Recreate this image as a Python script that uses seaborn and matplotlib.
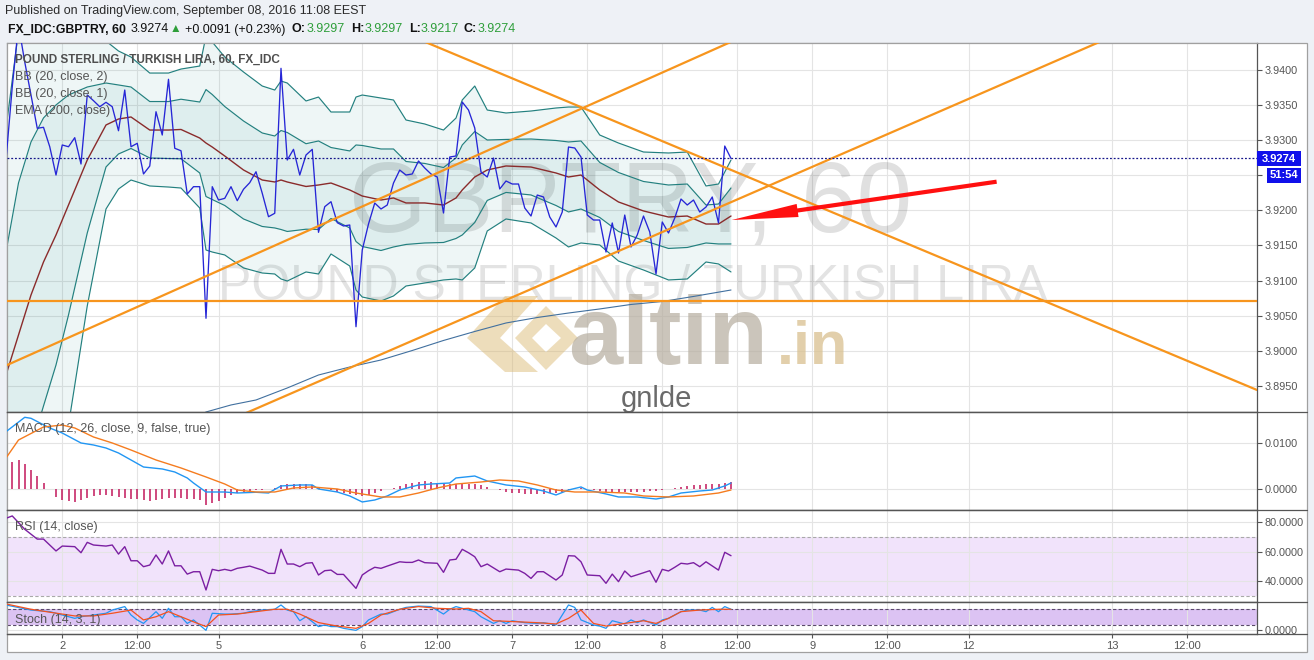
import matplotlib
matplotlib.use("Agg")
import matplotlib.pyplot as plt
import seaborn as sns
import pandas as pd
from matplotlib.patches import Rectangle, Polygon, FancyArrowPatch, PathPatch, ArrowStyle
from matplotlib.path import Path
from matplotlib.lines import Line2D

# ---------------- data (hourly bars, index 0 = first visible bar) ----------------
close = [3.92718, 3.93758, 3.94641, 3.94114, 3.93644, 3.93170, 3.93184, 3.92907, 3.92504, 3.92932,
         3.92907, 3.93036, 3.92661, 3.93644, 3.93563, 3.93477, 3.93540, 3.93477, 3.93135, 3.93715,
         3.92907, 3.92956, 3.92519, 3.92632, 3.93406, 3.93074, 3.93868, 3.92885, 3.92850, 3.92234,
         3.92338, 3.92338, 3.90463, 3.92338, 3.92148, 3.92172, 3.92338, 3.92138, 3.92301, 3.92395,
         3.92551, 3.92244, 3.91910, 3.91959, 3.94024, 3.92718, 3.92870, 3.92504, 3.92789, 3.92870,
         3.91688, 3.92053, 3.92124, 3.91825, 3.91778, 3.91792, 3.90343, 3.91436, 3.91806, 3.92105,
         3.92020, 3.92077, 3.92390, 3.92575, 3.92504, 3.92519, 3.92704, 3.92604, 3.92519, 3.92476,
         3.91963, 3.92761, 3.92775, 3.93544, 3.93430, 3.93174, 3.92547, 3.92476, 3.92746, 3.92305,
         3.92419, 3.92376, 3.92376, 3.92034, 3.91920, 3.92219, 3.92191, 3.91906, 3.91764, 3.91977,
         3.92903, 3.92889, 3.92761, 3.91934, 3.91863, 3.91863, 3.91407, 3.91821, 3.91393, 3.91934,
         3.91479, 3.91650, 3.91920, 3.91692, 3.91094, 3.91835, 3.91678, 3.91892, 3.92162, 3.92077,
         3.92148, 3.91977, 3.92048, 3.92191, 3.91821, 3.92917, 3.92740]

band_bars = [0, 2, 4, 6, 8, 10, 13, 16, 18, 20, 23, 26, 28, 31, 32, 33, 35, 38, 41, 43,
             44, 45, 48, 50, 52, 55, 56, 57, 60, 62, 64, 67, 70, 72, 73, 75, 77, 80, 84, 88,
             90, 92, 95, 98, 102, 106, 109, 112, 114, 116]
bb_basis = [3.89655, 3.90225, 3.90795, 3.91265, 3.91650, 3.92077, 3.92718, 3.93217, 3.93302, 3.93331,
            3.93145, 3.93145, 3.93153, 3.93031, 3.92960, 3.92903, 3.92775, 3.92576, 3.92433, 3.92405,
            3.92433, 3.92405, 3.92341, 3.92362, 3.92390, 3.92291, 3.92248, 3.92205, 3.92148, 3.92177,
            3.92106, 3.92106, 3.92077, 3.92177, 3.92291, 3.92476, 3.92576, 3.92633, 3.92618, 3.92533,
            3.92476, 3.92504, 3.92291, 3.92120, 3.91992, 3.91906, 3.91920, 3.91806, 3.91806, 3.91920]
bb_upper2 = [3.93160, 3.94556, 3.95154, 3.95368, 3.95353, 3.95211, 3.94798, 3.94413, 3.94271, 3.94185,
             3.93957, 3.93957, 3.94014, 3.94057, 3.94484, 3.94399, 3.94185, 3.93972, 3.93772, 3.93715,
             3.93843, 3.93815, 3.93559, 3.93615, 3.93402, 3.93402, 3.93615, 3.93644, 3.93601, 3.93573,
             3.93288, 3.93231, 3.93145, 3.93316, 3.93573, 3.93772, 3.93430, 3.93388, 3.93416, 3.93459,
             3.93473, 3.93473, 3.93074, 3.92960, 3.92832, 3.92818, 3.92832, 3.92348, 3.92376, 3.92718]
bb_lower2 = [3.86151, 3.85895, 3.86436, 3.87162, 3.87946, 3.88943, 3.90638, 3.92020, 3.92305, 3.92433,
             3.92348, 3.92333, 3.92319, 3.92034, 3.91436, 3.91407, 3.91365, 3.91180, 3.91108, 3.91094,
             3.91023, 3.90994, 3.91123, 3.91094, 3.91379, 3.91208, 3.90866, 3.90766, 3.90709, 3.90781,
             3.90923, 3.90966, 3.91009, 3.91023, 3.91009, 3.91180, 3.91707, 3.91878, 3.91821, 3.91607,
             3.91479, 3.91536, 3.91507, 3.91279, 3.91151, 3.91009, 3.91023, 3.91265, 3.91237, 3.91123]
bb_upper1 = [3.91408, 3.92391, 3.92975, 3.93317, 3.93502, 3.93644, 3.93758, 3.93815, 3.93787, 3.93758,
             3.93551, 3.93551, 3.93584, 3.93544, 3.93722, 3.93651, 3.93480, 3.93274, 3.93103, 3.93060,
             3.93138, 3.93110, 3.92950, 3.92989, 3.92896, 3.92847, 3.92932, 3.92925, 3.92875, 3.92875,
             3.92697, 3.92669, 3.92611, 3.92747, 3.92932, 3.93124, 3.93003, 3.93011, 3.93017, 3.92996,
             3.92975, 3.92989, 3.92683, 3.92540, 3.92412, 3.92362, 3.92376, 3.92077, 3.92091, 3.92319]
bb_lower1 = [3.87903, 3.88060, 3.88616, 3.89214, 3.89798, 3.90510, 3.91678, 3.92619, 3.92804, 3.92882,
             3.92747, 3.92739, 3.92736, 3.92533, 3.92198, 3.92155, 3.92070, 3.91878, 3.91771, 3.91750,
             3.91728, 3.91700, 3.91732, 3.91728, 3.91885, 3.91750, 3.91557, 3.91486, 3.91429, 3.91479,
             3.91515, 3.91536, 3.91543, 3.91600, 3.91650, 3.91828, 3.92142, 3.92256, 3.92220, 3.92070,
             3.91978, 3.92020, 3.91899, 3.91700, 3.91572, 3.91458, 3.91472, 3.91536, 3.91522, 3.91522]

ema_bars = [30, 32, 36, 40, 45, 50, 55, 60, 65, 70, 75, 80, 85, 90, 95, 100, 105, 110, 116]
ema200 = [3.89014, 3.89128, 3.89228, 3.89299, 3.89470, 3.89655, 3.89769, 3.89869, 3.90004, 3.90147,
          3.90275, 3.90396, 3.90474, 3.90538, 3.90596, 3.90660, 3.90702, 3.90774, 3.90866]

macd_bars = [0, 3, 4, 7, 9, 12, 14, 16, 18, 20, 22, 25, 27, 29, 30, 32, 35, 37, 40, 42,
             44, 47, 49, 50, 53, 55, 57, 59, 61, 63, 66, 68, 71, 72, 75, 77, 80, 83, 86, 88,
             90, 92, 93, 96, 98, 101, 104, 106, 108, 111, 113, 115, 116]
macd_vals = [0.01254, 0.01569, 0.01547, 0.01335, 0.01225, 0.01007, 0.00963, 0.00897, 0.00788, 0.00635,
             0.00481, 0.00438, 0.00372, 0.00241, 0.00131, -0.00066, -0.00066, -0.00088, -0.00072, -0.00088,
             0.00066, 0.00088, 0.00088, 0.0, -0.00066, -0.00153, -0.00284, -0.00241, -0.00153, -0.00022,
             0.00088, 0.00109, 0.00131, 0.00241, 0.00284, 0.00175, 0.00088, 0.00044, -0.00044, -0.00131,
             -0.00022, 0.00044, -0.00022, -0.00109, -0.00175, -0.00175, -0.00219, -0.00175, -0.00088, -0.00044,
             -0.00022, 0.00066, 0.00131]
sig_bars = [0, 2, 6, 9, 11, 14, 17, 20, 24, 28, 32, 35, 37, 40, 43, 46, 49, 53, 56, 60,
            63, 66, 69, 72, 76, 79, 82, 85, 88, 91, 95, 99, 102, 106, 110, 114, 116]
sig_vals = [0.00678, 0.01072, 0.01357, 0.01400, 0.01335, 0.01138, 0.01007, 0.00853, 0.00635, 0.00460,
            0.00263, 0.00109, -0.00022, -0.00066, -0.00066, 0.00022, 0.00044, 0.0, -0.00088, -0.00175,
            -0.00175, -0.00088, 0.00022, 0.00109, 0.00153, 0.00197, 0.00175, 0.00088, -0.00022, -0.00066,
            -0.00066, -0.00088, -0.00153, -0.00175, -0.00153, -0.00088, -0.00022]
macd_hist = [0.0052, 0.0060, 0.0064, 0.0055, 0.0042, 0.0028, 0.0014, 0.0, -0.0017, -0.0024,
             -0.0026, -0.0028, -0.0024, -0.0020, -0.0016, -0.0014, -0.0014, -0.0015, -0.0017, -0.0019,
             -0.0021, -0.0023, -0.0025, -0.0026, -0.0025, -0.0022, -0.0020, -0.0020, -0.0020, -0.0021,
             -0.0022, -0.0025, -0.0035, -0.0031, -0.0026, -0.0020, -0.0014, -0.0009, -0.0006, -0.0004,
             -0.0003, -0.0002, -0.0001, 0.0003, 0.0008, 0.0011, 0.0012, 0.0012, 0.0011, 0.0009,
             0.0005, 0.0001, -0.0003, -0.0006, -0.0008, -0.0010, -0.0014, -0.0016, -0.0013, -0.0009,
             -0.0005, -0.0001, 0.0003, 0.0007, 0.0011, 0.0014, 0.0016, 0.0017, 0.0016, 0.0014,
             0.0012, 0.0011, 0.0012, 0.0013, 0.0012, 0.0011, 0.0009, 0.0005, 0.0001, -0.0003,
             -0.0006, -0.0008, -0.0009, -0.0010, -0.0010, -0.0010, -0.0010, -0.0009, -0.0008, -0.0006,
             -0.0003, 0.0001, 0.0003, 0.0000, -0.0003, -0.0005, -0.0006, -0.0007, -0.0007, -0.0006,
             -0.0006, -0.0007, -0.0006, -0.0005, -0.0004, -0.0002, 0.0000, 0.0002, 0.0004, 0.0006,
             0.0008, 0.0009, 0.0010, 0.0010, 0.0011, 0.0013, 0.0015]

rsi_bars = [0, 1, 3, 5, 6, 8, 9, 11, 12, 13, 14, 16, 17, 18, 19, 20, 21, 22, 23, 24,
            25, 26, 27, 28, 29, 30, 31, 32, 33, 34, 35, 36, 37, 38, 39, 41, 42, 43, 44, 45,
            46, 47, 48, 49, 50, 51, 52, 53, 54, 56, 57, 58, 59, 60, 61, 63, 64, 65, 66, 67,
            69, 70, 71, 72, 73, 74, 75, 76, 77, 79, 80, 82, 83, 84, 85, 86, 88, 89, 90, 91,
            92, 93, 95, 96, 97, 98, 99, 100, 102, 103, 104, 105, 106, 107, 108, 109, 110, 111, 112, 114,
            115, 116]
rsi_vals = [82.4, 84.0, 75.0, 68.4, 68.4, 60.4, 63.7, 63.3, 59.2, 66.2, 64.4, 63.7, 64.4, 58.3, 63.3,
            53.8, 53.8, 49.8, 50.9, 57.7, 51.6, 60.4, 50.4, 50.4, 44.8, 46.4, 46.4, 34.1, 48.0, 47.1,
            48.0, 47.1, 48.7, 49.4, 50.2, 47.5, 45.3, 45.3, 61.5, 51.6, 51.6, 49.8, 52.1, 52.5, 44.2,
            47.1, 47.5, 44.6, 44.6, 35.2, 44.2, 47.1, 49.4, 48.7, 50.2, 53.1, 52.7, 52.7, 54.3, 52.5,
            52.1, 46.0, 54.3, 54.8, 61.5, 59.2, 56.5, 49.8, 51.6, 46.4, 48.2, 47.5, 45.3, 41.9, 46.4,
            46.4, 40.8, 44.2, 57.2, 57.0, 53.1, 44.2, 43.7, 38.6, 44.8, 39.7, 46.9, 43.0, 45.7, 47.1,
            39.3, 48.0, 46.9, 49.4, 52.1, 51.6, 52.5, 49.8, 53.1, 47.5, 59.5, 57.2]

stk_bars = [0, 4, 7, 9, 11, 12, 14, 16, 17, 19, 20, 21, 22, 24, 25, 26, 27, 28, 29, 30,
            32, 33, 35, 36, 38, 39, 41, 43, 44, 45, 46, 47, 48, 50, 51, 52, 53, 54, 56, 57,
            58, 60, 61, 63, 64, 66, 68, 70, 71, 72, 73, 75, 76, 78, 79, 80, 81, 83, 85, 86,
            88, 90, 91, 92, 94, 95, 96, 97, 99, 100, 101, 102, 104, 105, 106, 108, 109, 111, 112, 113,
            114, 115, 116]
stk_vals = [95, 76, 70, 57.5, 45, 51, 57.5, 64, 76, 89, 57.5, 39, 26, 70, 45, 82.6, 51, 51, 26, 39,
            0, 64, 61, 61, 64, 70, 76, 79, 95, 76, 70, 36, 51, 14, 20, 14, 14, 7.6, 0, 14,
            39, 61, 61, 79, 86, 91, 89, 61, 79, 89, 82.6, 70, 51, 26, 36, 26, 36, 28.7, 26, 28.7,
            20, 95, 86, 39, 20, 16, 7.6, 36, 24, 39, 28.7, 39, 20, 39, 45, 70, 76, 76, 70, 86,
            70, 89, 79]
std_bars = [0, 4, 7, 11, 14, 17, 20, 22, 24, 26, 28, 30, 32, 34, 37, 40, 43, 45, 47, 50,
            53, 56, 58, 60, 63, 66, 69, 72, 74, 76, 78, 82, 85, 88, 90, 92, 94, 96, 99, 102,
            104, 106, 108, 111, 114, 116]
std_vals = [99, 79, 68, 54, 54, 64, 76, 39, 51, 70, 51, 32, 14, 57.5, 61, 70, 79, 79, 61, 29,
            16, 7.6, 26, 57.5, 79, 89, 82.6, 80, 82.6, 70, 36, 32, 28.7, 24, 45, 76, 26, 16, 26, 36,
            26, 45, 70, 76, 79, 79]

tick_bars = [9, 21, 34, 57, 69, 81, 93, 105, 117, 129, 141, 154, 177, 189]
tick_labels = ['2', '12:00', '5', '6', '12:00', '7', '12:00', '8', '12:00', '9', '12:00', '12', '13', '12:00']
price_ticks = [3.895, 3.900, 3.905, 3.910, 3.915, 3.920, 3.925, 3.930, 3.935, 3.940]
hidden_price_label = 3.925   # covered by the countdown box in the reference
macd_ticks = [0.0, 0.01]
rsi_ticks = [40, 60, 80]
stoch_ticks = [0]

trend_a = ([0, 120], [3.8979, 3.9456])
trend_b = ([36, 176], [3.8902, 3.9444])
trend_c = ([66, 200.2], [3.9444, 3.8944])
support_level = 3.9071
last_price = 3.9274
countdown = '51:54'
arrow_from = (158.5, 3.92409)
arrow_to = (116.1, 3.91863)

symbol_line = 'FX_IDC:GBPTRY, 60'
change_text = '+0.0091 (+0.23%)'
ohlc = [('O:', '3.9297'), ('H:', '3.9297'), ('L:', '3.9217'), ('C:', '3.9274')]

# ---------------- layout helpers ----------------
W, H = 1314, 660
def fx(x):
    return x / W
def fy(y):
    return 1 - y / H

sns.set_theme(style="white")
plt.rcParams['font.family'] = ['Liberation Sans', 'DejaVu Sans']

fig = plt.figure(figsize=(W / 100, H / 100), dpi=100)
fig.patch.set_facecolor('#eef1f6')
fig.add_artist(Rectangle((fx(7), fy(652)), fx(1307) - fx(7), fy(43) - fy(652),
                         transform=fig.transFigure, facecolor='white', edgecolor='#a0a0a0',
                         lw=0.9, zorder=-5))

XL, XR = 0.16, 200.16

def pane(y0, y1):
    a = fig.add_axes([fx(7), fy(y1), fx(1257) - fx(7), fy(y0) - fy(y1)])
    a.set_facecolor('white')
    return a

ax = pane(43, 411.5)
am = pane(411.5, 510)
ar = pane(510, 602.3)
ast = pane(602.3, 634)

GRAY = '#555555'

# ---------------- main pane ----------------
wm = dict(transform=fig.transFigure, zorder=0.6, clip_on=False)
ax.text(fx(631), fy(232), 'GBPTRY, 60', ha='center', va='baseline', fontsize=72,
        color='black', alpha=0.12, **wm)
ax.text(fx(633), fy(300), 'POUND STERLING / TURKISH LIRA', ha='center', va='baseline', fontsize=36,
        color='black', alpha=0.11, **wm)
logo_col = '#d8b46a'
chev = [(467, 338), (505, 296), (538, 296), (500, 338), (538, 372), (505, 372)]
ax.add_patch(Polygon([(fx(x), fy(y)) for x, y in chev], closed=True, transform=fig.transFigure,
                     facecolor=logo_col, alpha=0.45, lw=0, zorder=0.6))
outer = [(515, 338), (546, 306), (578, 338), (546, 370)]
inner = [(532, 338), (546, 352), (561, 338), (546, 324)]
verts = [(fx(x), fy(y)) for x, y in outer + [outer[0]] + inner + [inner[0]]]
codes = [Path.MOVETO, Path.LINETO, Path.LINETO, Path.LINETO, Path.CLOSEPOLY] * 2
ax.add_patch(PathPatch(Path(verts, codes), transform=fig.transFigure, facecolor=logo_col,
                       alpha=0.45, lw=0, zorder=0.6))
ax.text(fx(568), fy(364), 'altin', ha='left', va='baseline', fontsize=70, fontweight='bold',
        color='#b7afa1', alpha=0.72, **wm)
ax.text(fx(777), fy(364), '.in', ha='left', va='baseline', fontsize=44, fontweight='bold',
        color='#d9c08f', alpha=0.75, **wm)
ax.text(fx(656), fy(407), 'gnlde', ha='center', va='baseline', fontsize=21,
        color='#6a6a6a', **wm)

ax.fill_between(band_bars, bb_upper2, bb_lower2, color='#198787', alpha=0.07, lw=0, zorder=1)
ax.fill_between(band_bars, bb_upper1, bb_lower1, color='#198787', alpha=0.07, lw=0, zorder=1)
for ser in (bb_upper2, bb_upper1, bb_lower1, bb_lower2):
    sns.lineplot(x=band_bars, y=ser, ax=ax, color='#23807f', lw=0.85, zorder=2)
sns.lineplot(x=band_bars, y=bb_basis, ax=ax, color='#8a2b2b', lw=1.0, zorder=2)
sns.lineplot(x=ema_bars, y=ema200, ax=ax, color='#41709f', lw=0.8, zorder=2)

df_close = pd.DataFrame({'bar': list(range(len(close))), 'close': close})
sns.lineplot(data=df_close, x='bar', y='close', ax=ax, color='#2626d6', lw=0.95, zorder=4)

ORANGE = '#f7951d'
for xs, ys in (trend_a, trend_b, trend_c):
    ax.plot(xs, ys, color=ORANGE, lw=1.6, zorder=5, solid_capstyle='butt')
ax.axhline(support_level, color=ORANGE, lw=1.6, zorder=5)
ax.axhline(last_price, color='#16168a', lw=0.9, ls=(0, (1.5, 1.5)), zorder=5)

arr = FancyArrowPatch(arrow_from, arrow_to,
                      arrowstyle=ArrowStyle.Simple(head_length=4.8, head_width=0.95, tail_width=0.3),
                      mutation_scale=10, color='#ff1010', lw=0, zorder=7, shrinkA=0, shrinkB=0)
ax.add_patch(arr)
ax.set_ylim(3.89135, 3.94385)

# ---------------- MACD ----------------
am.vlines(list(range(len(macd_hist))), 0, macd_hist, color='#c2185b', lw=1.1, zorder=2)
sns.lineplot(x=macd_bars, y=macd_vals, ax=am, color='#2196f3', lw=1.0, zorder=3)
sns.lineplot(x=sig_bars, y=sig_vals, ax=am, color='#f57c1f', lw=1.0, zorder=3)
am.set_ylim(-0.0046, 0.01696)

# ---------------- RSI ----------------
ar.axhspan(30, 70, color='#f1e3fb', zorder=0.3, lw=0)
for lv in (70, 30):
    ar.axhline(lv, color='#a9a9a9', lw=0.8, ls=(0, (3, 2)), zorder=1)
sns.lineplot(x=rsi_bars, y=rsi_vals, ax=ar, color='#7b1fa2', lw=1.0, zorder=3)
ar.set_ylim(25.8, 88.0)

# ---------------- Stoch ----------------
ast.axhspan(20, 80, color='#dcc3f3', zorder=0.3, lw=0)
for lv in (80, 20):
    ast.axhline(lv, color='#5a4a6a', lw=0.8, ls=(0, (3, 2)), zorder=1)
sns.lineplot(x=stk_bars, y=stk_vals, ax=ast, color='#2196f3', lw=0.9, zorder=3)
sns.lineplot(x=std_bars, y=std_vals, ax=ast, color='#f4511e', lw=0.9, zorder=3)
ast.set_ylim(-13.7, 105.1)

# ---------------- axes styling ----------------
def style(a, yticks, fmt, show_x=False, hide=None):
    a.set_xlim(XL, XR)
    a.set_xticks(tick_bars)
    a.set_yticks(yticks)
    a.set_yticklabels(['' if (hide is not None and abs(v - hide) < 1e-9) else fmt.format(v)
                       for v in yticks])
    a.yaxis.tick_right()
    a.grid(True, color='#e4e4e4', lw=0.8)
    a.set_axisbelow(True)
    a.tick_params(axis='y', right=True, left=False, labelright=True, labelleft=False,
                  length=3.5, width=0.8, color=GRAY, labelsize=7.8, labelcolor=GRAY, pad=2)
    if show_x:
        a.set_xticklabels(tick_labels)
        a.tick_params(axis='x', bottom=True, length=3, width=0.8, color=GRAY,
                      labelsize=8, labelcolor=GRAY, pad=2)
    else:
        a.tick_params(axis='x', bottom=False, labelbottom=False)
    a.set_xlabel('')
    a.set_ylabel('')
    for s in a.spines.values():
        s.set_color(GRAY)
        s.set_linewidth(0.9)
    a.spines['left'].set_color('#a0a0a0')

style(ax, price_ticks, '{:.4f}', hide=hidden_price_label)
style(am, macd_ticks, '{:.4f}')
style(ar, rsi_ticks, '{:.4f}')
style(ast, stoch_ticks, '{:.4f}', show_x=True)
ax.spines['top'].set_color('#a0a0a0')

for yy in (411.5, 510, 602.3, 634):
    fig.add_artist(Line2D([fx(7), fx(1307)], [fy(yy), fy(yy)], transform=fig.transFigure,
                          color=GRAY, lw=0.9, zorder=4))

# price / countdown boxes on the right scale
fig.add_artist(Rectangle((fx(1257), fy(166)), fx(1301) - fx(1257), fy(151) - fy(166),
                         transform=fig.transFigure, facecolor='#1010ea', edgecolor='none', zorder=5))
fig.text(fx(1279), fy(158.5), f'{last_price:.4f}', color='white', fontsize=8, fontweight='bold',
         ha='center', va='center', zorder=6)
fig.add_artist(Rectangle((fx(1267), fy(183)), fx(1301) - fx(1267), fy(168) - fy(183),
                         transform=fig.transFigure, facecolor='#1010ea', edgecolor='none', zorder=5))
fig.text(fx(1284), fy(175.5), countdown, color='white', fontsize=8, fontweight='bold',
         ha='center', va='center', zorder=6)

# ---------------- header ----------------
fig.text(fx(5), fy(11), 'Published on TradingView.com, September 08, 2016 11:08 EEST',
         fontsize=9, color='#2b2b2b', ha='left', va='center')
GREEN = '#2e9e3a'
hy = fy(29.5)
fig.text(fx(7.5), hy, symbol_line, fontsize=8.8, fontweight='bold', color='#111111', va='center')
fig.text(fx(131), hy, f'{last_price:.4f}', fontsize=9, color='#111111', va='center')
fig.text(fx(170), hy, '\u25B2', fontsize=8.5, color=GREEN, va='center')
fig.text(fx(185), hy, change_text, fontsize=9, color='#111111', va='center')
for (lab, val), xl, xv in zip(ohlc, (292, 351, 409, 464), (307, 365, 421, 478)):
    fig.text(fx(xl), hy, lab, fontsize=9, fontweight='bold', color='#111111', va='center')
    fig.text(fx(xv), hy, val, fontsize=9, color=GREEN, va='center')

# pane legends
fig.text(fx(15), fy(60), 'POUND STERLING / TURKISH LIRA, 60, FX_IDC', fontsize=8.5,
         fontweight='bold', color='#4f4f4f', va='center')
for txt, yy in (('BB (20, close, 2)', 77), ('BB (20, close, 1)', 94), ('EMA (200, close)', 111)):
    fig.text(fx(15), fy(yy), txt, fontsize=9, color='#555555', va='center')
fig.text(fx(15), fy(429), 'MACD (12, 26, close, 9, false, true)', fontsize=9, color='#555555', va='center')
fig.text(fx(15), fy(527), 'RSI (14, close)', fontsize=9, color='#555555', va='center')
fig.text(fx(15), fy(620), 'Stoch (14, 3, 1)', fontsize=9, color='#555555', va='center')

fig.savefig('out.png', dpi=100, facecolor=fig.get_facecolor())
